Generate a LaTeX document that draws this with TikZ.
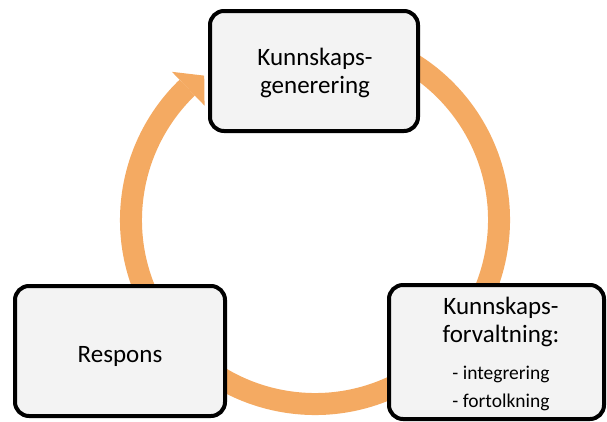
\documentclass[tikz,border=0pt]{standalone}
\usepackage{fontspec}
\setmainfont{Carlito}
\usetikzlibrary{calc,shadows}
\definecolor{arcorange}{RGB}{244,170,98}
\definecolor{boxfill}{RGB}{243,243,243}
\tikzset{
  cyclebox/.style={draw=black, line width=4pt, rounded corners=14pt, fill=boxfill,
    inner sep=0pt,
    drop shadow={shadow xshift=1.5pt, shadow yshift=-1.5pt, opacity=0.3}},
  cyclearc/.style={draw=arcorange, line width=22pt},
  boxtext/.style={align=center, inner sep=0pt, anchor=base, font=\fontsize{25}{27.5}\selectfont},
}
\newcommand{\smalltxt}{\fontsize{19.5}{29}\selectfont}
\newcommand{\bigtxt}{\fontsize{25}{29}\selectfont}
\begin{document}
\begin{tikzpicture}[x=1pt,y=-1pt]
\useasboundingbox (0,0) rectangle (607,421);
\coordinate (c) at (315,220);
\draw[cyclearc] ($(c)+(-80:184)$) arc[start angle=-80,end angle=226,radius=184];
\fill[arcorange] ($(c)+(226:206)$) -- ($(c)+(232.5:182)$) -- ($(c)+(226:159)$) -- cycle;
\node[cyclebox, minimum width=208pt, minimum height=120pt] (gen) at (314,71) {};
\node[boxtext] (gentext) at (315,93) {Kunnskaps-\\generering};
\node[cyclebox, minimum width=215pt, minimum height=134pt] (forv) at (496.5,352) {};
\node[boxtext] (forvtext) at (501,407)
  {\bigtxt Kunnskaps-\\\bigtxt forvaltning:\\[10pt]\smalltxt - integrering\\\smalltxt - fortolkning};
\node[cyclebox, minimum width=210pt, minimum height=130pt] (resp) at (120,351) {};
\node[boxtext] (resptext) at (120,362) {Respons};
\end{tikzpicture}
\end{document}
